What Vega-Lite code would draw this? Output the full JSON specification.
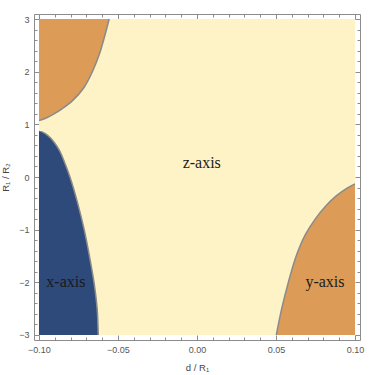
{
  "$schema": "https://vega.github.io/schema/vega-lite/v6.json",
  "width": 326,
  "height": 326,
  "autosize": {"type": "none"},
  "padding": {"left": 34, "top": 14, "right": 14, "bottom": 35},
  "background": "white",
  "config": {
    "view": {"stroke": "#8c8c8c", "strokeWidth": 1},
    "axis": {
      "domain": false,
      "grid": false,
      "tickColor": "#8c8c8c",
      "labelFont": "Liberation Sans",
      "labelFontSize": 9,
      "labelColor": "#555555",
      "titleFont": "Liberation Sans",
      "titleFontSize": 9.5,
      "titleFontWeight": "normal",
      "titleColor": "#444444",
      "labelOverlap": false,
      "labelFlush": false
    }
  },
  "datasets": {
    "bg": [{"x": -0.1, "x2": 0.1, "y": -3, "y2": 3}],
    "regions": [
      {"region": "x-axis", "y": -3.0, "x": -0.0625, "x2": -0.1},
      {"region": "x-axis", "y": -2.5, "x": -0.0632, "x2": -0.1},
      {"region": "x-axis", "y": -2.0, "x": -0.0652, "x2": -0.1},
      {"region": "x-axis", "y": -1.5, "x": -0.0681, "x2": -0.1},
      {"region": "x-axis", "y": -1.0, "x": -0.0714, "x2": -0.1},
      {"region": "x-axis", "y": -0.5, "x": -0.0755, "x2": -0.1},
      {"region": "x-axis", "y": 0.0, "x": -0.0804, "x2": -0.1},
      {"region": "x-axis", "y": 0.3, "x": -0.0841, "x2": -0.1},
      {"region": "x-axis", "y": 0.5, "x": -0.087, "x2": -0.1},
      {"region": "x-axis", "y": 0.65, "x": -0.0902, "x2": -0.1},
      {"region": "x-axis", "y": 0.75, "x": -0.093, "x2": -0.1},
      {"region": "x-axis", "y": 0.83, "x": -0.0963, "x2": -0.1},
      {"region": "x-axis", "y": 0.88, "x": -0.1, "x2": -0.1},
      {"region": "y-axis TL", "y": 1.07, "x": -0.1, "x2": -0.1},
      {"region": "y-axis TL", "y": 1.12, "x": -0.0955, "x2": -0.1},
      {"region": "y-axis TL", "y": 1.2, "x": -0.0905, "x2": -0.1},
      {"region": "y-axis TL", "y": 1.3, "x": -0.0852, "x2": -0.1},
      {"region": "y-axis TL", "y": 1.45, "x": -0.0788, "x2": -0.1},
      {"region": "y-axis TL", "y": 1.7, "x": -0.0715, "x2": -0.1},
      {"region": "y-axis TL", "y": 2.0, "x": -0.0662, "x2": -0.1},
      {"region": "y-axis TL", "y": 2.35, "x": -0.0616, "x2": -0.1},
      {"region": "y-axis TL", "y": 2.7, "x": -0.0582, "x2": -0.1},
      {"region": "y-axis TL", "y": 3.0, "x": -0.0556, "x2": -0.1},
      {"region": "y-axis BR", "y": -3.0, "x": 0.0502, "x2": 0.1},
      {"region": "y-axis BR", "y": -2.5, "x": 0.0536, "x2": 0.1},
      {"region": "y-axis BR", "y": -2.0, "x": 0.0578, "x2": 0.1},
      {"region": "y-axis BR", "y": -1.5, "x": 0.0628, "x2": 0.1},
      {"region": "y-axis BR", "y": -1.1, "x": 0.0685, "x2": 0.1},
      {"region": "y-axis BR", "y": -0.8, "x": 0.0748, "x2": 0.1},
      {"region": "y-axis BR", "y": -0.55, "x": 0.0815, "x2": 0.1},
      {"region": "y-axis BR", "y": -0.35, "x": 0.0885, "x2": 0.1},
      {"region": "y-axis BR", "y": -0.22, "x": 0.0945, "x2": 0.1},
      {"region": "y-axis BR", "y": -0.13, "x": 0.1, "x2": 0.1}
    ],
    "labels": [
      {"label": "z-axis", "x": 0.003, "y": 0.27},
      {"label": "x-axis", "x": -0.083, "y": -2.0},
      {"label": "y-axis", "x": 0.081, "y": -2.0}
    ]
  },
  "layer": [
    {
      "data": {"name": "bg"},
      "mark": {"type": "rect", "color": "#FDF3C6"},
      "encoding": {
        "x": {
          "field": "x", "type": "quantitative",
          "scale": {"domain": [-0.10316, 0.10316], "nice": false, "zero": false},
          "axis": {
            "orient": "bottom",
            "values": [-0.1, -0.09, -0.08, -0.07, -0.06, -0.05, -0.04, -0.03, -0.02, -0.01, 0, 0.01, 0.02, 0.03, 0.04, 0.05, 0.06, 0.07, 0.08, 0.09, 0.1],
            "labelExpr": "abs(round(datum.value*100))%5===0 ? format(datum.value,'.2f') : ''",
            "tickSize": {"condition": {"test": "abs(round(datum.value*100))%5===0", "value": -5}, "value": -3},
            "labelPadding": 10,
            "title": "d / R₁",
            "titlePadding": 6
          }
        },
        "x2": {"field": "x2"},
        "y": {
          "field": "y", "type": "quantitative",
          "scale": {"domain": [-3.095, 3.095], "nice": false, "zero": false},
          "axis": {
            "orient": "left",
            "values": [-3, -2.8, -2.6, -2.4, -2.2, -2, -1.8, -1.6, -1.4, -1.2, -1, -0.8, -0.6, -0.4, -0.2, 0, 0.2, 0.4, 0.6, 0.8, 1, 1.2, 1.4, 1.6, 1.8, 2, 2.2, 2.4, 2.6, 2.8, 3],
            "labelExpr": "abs(round(datum.value*5))%5===0 ? format(datum.value,'d') : ''",
            "tickSize": {"condition": {"test": "abs(round(datum.value*5))%5===0", "value": -5}, "value": -3},
            "labelPadding": 10,
            "title": "R₁ / R₂",
            "titlePadding": 8
          }
        },
        "y2": {"field": "y2"}
      }
    },
    {
      "data": {"name": "regions"},
      "mark": {"type": "area", "orient": "horizontal", "interpolate": "catmull-rom"},
      "encoding": {
        "y": {"field": "y", "type": "quantitative", "axis": null},
        "x": {"field": "x", "type": "quantitative", "stack": null, "axis": null},
        "x2": {"field": "x2"},
        "color": {
          "field": "region", "type": "nominal",
          "scale": {"domain": ["x-axis", "y-axis TL", "y-axis BR"], "range": ["#2D4A7B", "#DD9B58", "#DD9B58"]},
          "legend": null
        }
      }
    },
    {
      "data": {"name": "regions"},
      "mark": {"type": "line", "color": "#8a8a8a", "strokeWidth": 1.5, "interpolate": "catmull-rom"},
      "encoding": {
        "y": {"field": "y", "type": "quantitative", "axis": null},
        "x": {"field": "x", "type": "quantitative", "axis": null},
        "detail": {"field": "region"},
        "order": {"field": "y", "type": "quantitative"}
      }
    },
    {
      "data": {"name": "labels"},
      "mark": {"type": "text", "font": "Liberation Serif", "fontSize": 16, "color": "#1a1a1a"},
      "encoding": {
        "x": {
          "field": "x", "type": "quantitative",
          "axis": {
            "orient": "top",
            "values": [-0.1, -0.09, -0.08, -0.07, -0.06, -0.05, -0.04, -0.03, -0.02, -0.01, 0, 0.01, 0.02, 0.03, 0.04, 0.05, 0.06, 0.07, 0.08, 0.09, 0.1],
            "labels": false,
            "tickSize": {"condition": {"test": "abs(round(datum.value*100))%5===0", "value": -5}, "value": -3},
            "title": null
          }
        },
        "y": {
          "field": "y", "type": "quantitative",
          "axis": {
            "orient": "right",
            "values": [-3, -2.8, -2.6, -2.4, -2.2, -2, -1.8, -1.6, -1.4, -1.2, -1, -0.8, -0.6, -0.4, -0.2, 0, 0.2, 0.4, 0.6, 0.8, 1, 1.2, 1.4, 1.6, 1.8, 2, 2.2, 2.4, 2.6, 2.8, 3],
            "labels": false,
            "tickSize": {"condition": {"test": "abs(round(datum.value*5))%5===0", "value": -5}, "value": -3},
            "title": null
          }
        },
        "text": {"field": "label"}
      }
    }
  ],
  "resolve": {"axis": {"x": "independent", "y": "independent"}}
}
